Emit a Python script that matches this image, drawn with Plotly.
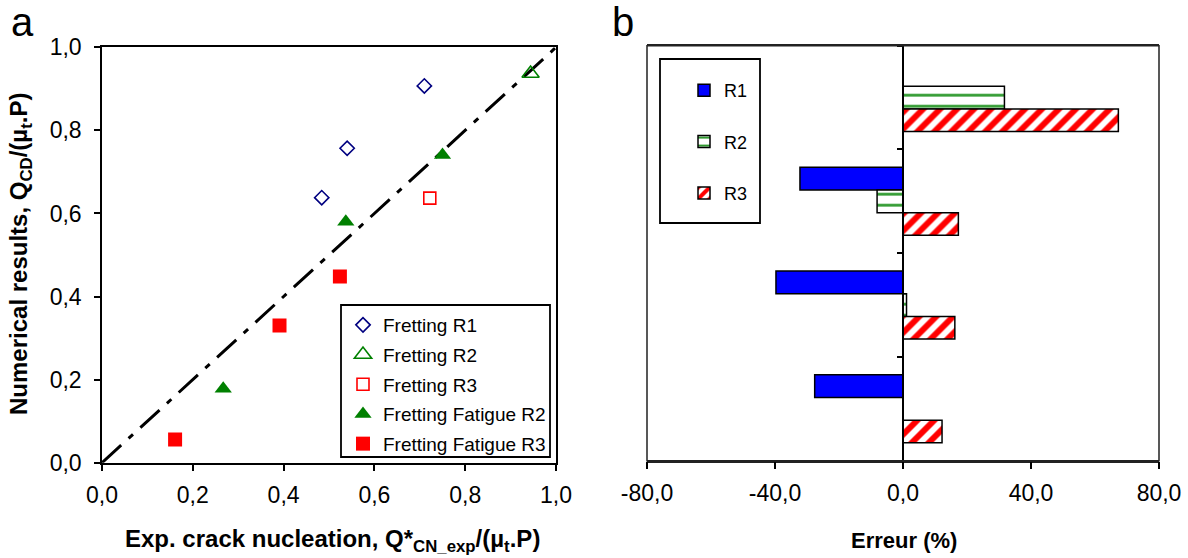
import plotly.graph_objects as go

# ---- panel a : numerical vs experimental crack nucleation load ----
fretting_r1_x = [0.484, 0.540, 0.710]
fretting_r1_y = [0.638, 0.757, 0.907]
fretting_r2_x = [0.944]
fretting_r2_y = [0.937]
fretting_r3_x = [0.722]
fretting_r3_y = [0.637]
fatigue_r2_x = [0.267, 0.537, 0.750]
fatigue_r2_y = [0.178, 0.580, 0.741]
fatigue_r3_x = [0.161, 0.391, 0.524]
fatigue_r3_y = [0.056, 0.330, 0.448]
identity_line = [0.0, 1.0]

ticks_a = [0.0, 0.2, 0.4, 0.6, 0.8, 1.0]
ticks_a_text = ["0,0", "0,2", "0,4", "0,6", "0,8", "1,0"]

# ---- panel b : relative error per case ----
cases = ["cas 1", "cas 2", "cas 3", "cas 4"]
err_r1 = [None, -32.2, -39.7, -27.6]
err_r2 = [31.7, -8.1, 1.1, None]
err_r3 = [67.3, 17.3, 16.2, 12.2]

ticks_b = [-80, -40, 0, 40, 80]
ticks_b_text = ["-80,0", "-40,0", "0,0", "40,0", "80,0"]

W, H = 1188, 558
FONT = "Liberation Sans, Arial, sans-serif"


def px(x):
    return x / W


def py(y):
    return 1 - y / H


fig = go.Figure()

fig.add_trace(go.Scatter(
    x=identity_line, y=identity_line, mode="lines", showlegend=False,
    line=dict(color="black", width=3, dash="26px,10px,6px,10px"),
    xaxis="x", yaxis="y", hoverinfo="skip"))

scatter_specs = [
    ("Fretting R1", fretting_r1_x, fretting_r1_y,
     dict(symbol="diamond-open", size=11, color="#000080", line=dict(width=1.6, color="#000080"))),
    ("Fretting R2", fretting_r2_x, fretting_r2_y,
     dict(symbol="triangle-up-open", size=15, color="#008000", line=dict(width=1.6, color="#008000"))),
    ("Fretting R3", fretting_r3_x, fretting_r3_y,
     dict(symbol="square-open", size=12, color="#FF0000", line=dict(width=1.6, color="#FF0000"))),
    ("Fretting Fatigue R2", fatigue_r2_x, fatigue_r2_y,
     dict(symbol="triangle-up", size=15, color="#008000")),
    ("Fretting Fatigue R3", fatigue_r3_x, fatigue_r3_y,
     dict(symbol="square", size=14, color="#FF0000")),
]
for name, xs, ys, mk in scatter_specs:
    fig.add_trace(go.Scatter(
        x=xs, y=ys, mode="markers", name=name, marker=mk,
        xaxis="x", yaxis="y", legend="legend", legendgroup=name))

bar_line = dict(color="black", width=1.5)
fig.add_trace(go.Bar(
    y=cases, x=err_r1, orientation="h", name="R1",
    marker=dict(color="#0000FF", line=bar_line),
    xaxis="x2", yaxis="y2", legend="legend2", legendgroup="R1"))
fig.add_trace(go.Bar(
    y=cases, x=err_r2, orientation="h", name="R2",
    marker=dict(color="white", line=bar_line,
                pattern=dict(shape="-", fgcolor="#2f9a2f", bgcolor="white",
                             fgopacity=1, size=11, solidity=0.25)),
    xaxis="x2", yaxis="y2", legend="legend2", legendgroup="R2"))
fig.add_trace(go.Bar(
    y=cases, x=err_r3, orientation="h", name="R3",
    marker=dict(color="white", line=bar_line,
                pattern=dict(shape="/", fgcolor="#FF0000", bgcolor="white",
                             fgopacity=1, size=12, solidity=0.5)),
    xaxis="x2", yaxis="y2", legend="legend2", legendgroup="R3"))

# plot areas in pixels
ax_a = dict(x0=102, x1=556, y0=47.3, y1=462.7)
ax_b = dict(x0=647, x1=1159, y0=45.7, y1=460.7)

tick_font = dict(family=FONT, size=23, color="black")


def label(text, x, y, size, angle=0):
    return dict(text=text, x=px(x), y=py(y), xref="paper", yref="paper",
                xanchor="center", yanchor="middle", showarrow=False,
                textangle=angle, font=dict(family=FONT, size=size, color="black"))


fig.update_layout(
    width=W, height=H,
    margin=dict(l=0, r=0, t=0, b=0, autoexpand=False),
    paper_bgcolor="white", plot_bgcolor="white",
    font=dict(family=FONT, color="black"),
    barmode="group", bargap=0.345, bargroupgap=0.0,
    xaxis=dict(
        domain=[px(ax_a["x0"]), px(ax_a["x1"])], anchor="y",
        range=[0, 1], tickvals=ticks_a, ticktext=ticks_a_text,
        showgrid=False, zeroline=False,
        showline=True, linecolor="black", linewidth=1.5, mirror=True,
        ticks="outside", ticklen=7, tickwidth=1.5, tickcolor="black",
        tickfont=tick_font, ticklabelstandoff=4),
    yaxis=dict(
        domain=[py(ax_a["y1"]), py(ax_a["y0"])], anchor="x",
        range=[0, 1], tickvals=ticks_a, ticktext=ticks_a_text,
        showgrid=False, zeroline=False,
        showline=True, linecolor="black", linewidth=1.5, mirror=True,
        ticks="outside", ticklen=6, tickwidth=1.5, tickcolor="black",
        tickfont=tick_font, ticklabelstandoff=8),
    xaxis2=dict(
        domain=[px(ax_b["x0"]), px(ax_b["x1"])], anchor="y2",
        range=[-80, 80], tickvals=ticks_b, ticktext=ticks_b_text,
        showgrid=False, zeroline=False,
        showline=True, linecolor="#222222", linewidth=1.5, mirror=True,
        ticks="outside", ticklen=7, tickwidth=1.5, tickcolor="black",
        tickfont=tick_font, ticklabelstandoff=4),
    yaxis2=dict(
        domain=[py(ax_b["y1"]), py(ax_b["y0"])], anchor="free",
        position=(px(ax_b["x0"]) + px(ax_b["x1"])) / 2,
        autorange="reversed", type="category",
        showgrid=False, zeroline=False, showticklabels=False,
        showline=True, linecolor="black", linewidth=1.5,
        ticks="outside", ticklen=5, tickwidth=1.5, tickcolor="black",
        tickson="boundaries"),
    legend=dict(
        x=px(343), y=py(306), xanchor="left", yanchor="top",
        bgcolor="rgba(0,0,0,0)", borderwidth=0,
        font=dict(family=FONT, size=19, color="black"),
        traceorder="grouped", tracegroupgap=2, itemwidth=30),
    legend2=dict(
        x=px(684), y=py(72), xanchor="left", yanchor="top",
        bgcolor="rgba(0,0,0,0)", borderwidth=0,
        font=dict(family=FONT, size=18, color="black"),
        traceorder="grouped", tracegroupgap=25, itemwidth=30),
    shapes=[
        # legend frames
        dict(type="rect", xref="paper", yref="paper",
             x0=px(341), x1=px(550), y0=py(457), y1=py(305),
             line=dict(color="black", width=1.8), fillcolor="white", layer="below"),
        dict(type="rect", xref="paper", yref="paper",
             x0=px(660), x1=px(760), y0=py(223), y1=py(59),
             line=dict(color="black", width=1.8), fillcolor="white", layer="below"),
        # frame of panel b
        dict(type="rect", xref="x2 domain", yref="y2 domain",
             x0=0, x1=1, y0=0, y1=1,
             line=dict(color="#222222", width=1.5), layer="above"),
    ],
    annotations=[
        label("a", 22, 22, 40),
        label("b", 623, 22, 40),
        label("<b>Exp. crack nucleation, Q*<sub>CN_exp</sub>/(µ<sub>t</sub>.P)</b>",
              332, 540, 24),
        label("<b>Numerical results, Q<sub>CD</sub>/(µ<sub>t</sub>.P)</b>",
              21, 254, 24, angle=-90),
        label("<b>Erreur (%)</b>", 904, 540, 22),
    ],
)

fig.write_html("out.html")
